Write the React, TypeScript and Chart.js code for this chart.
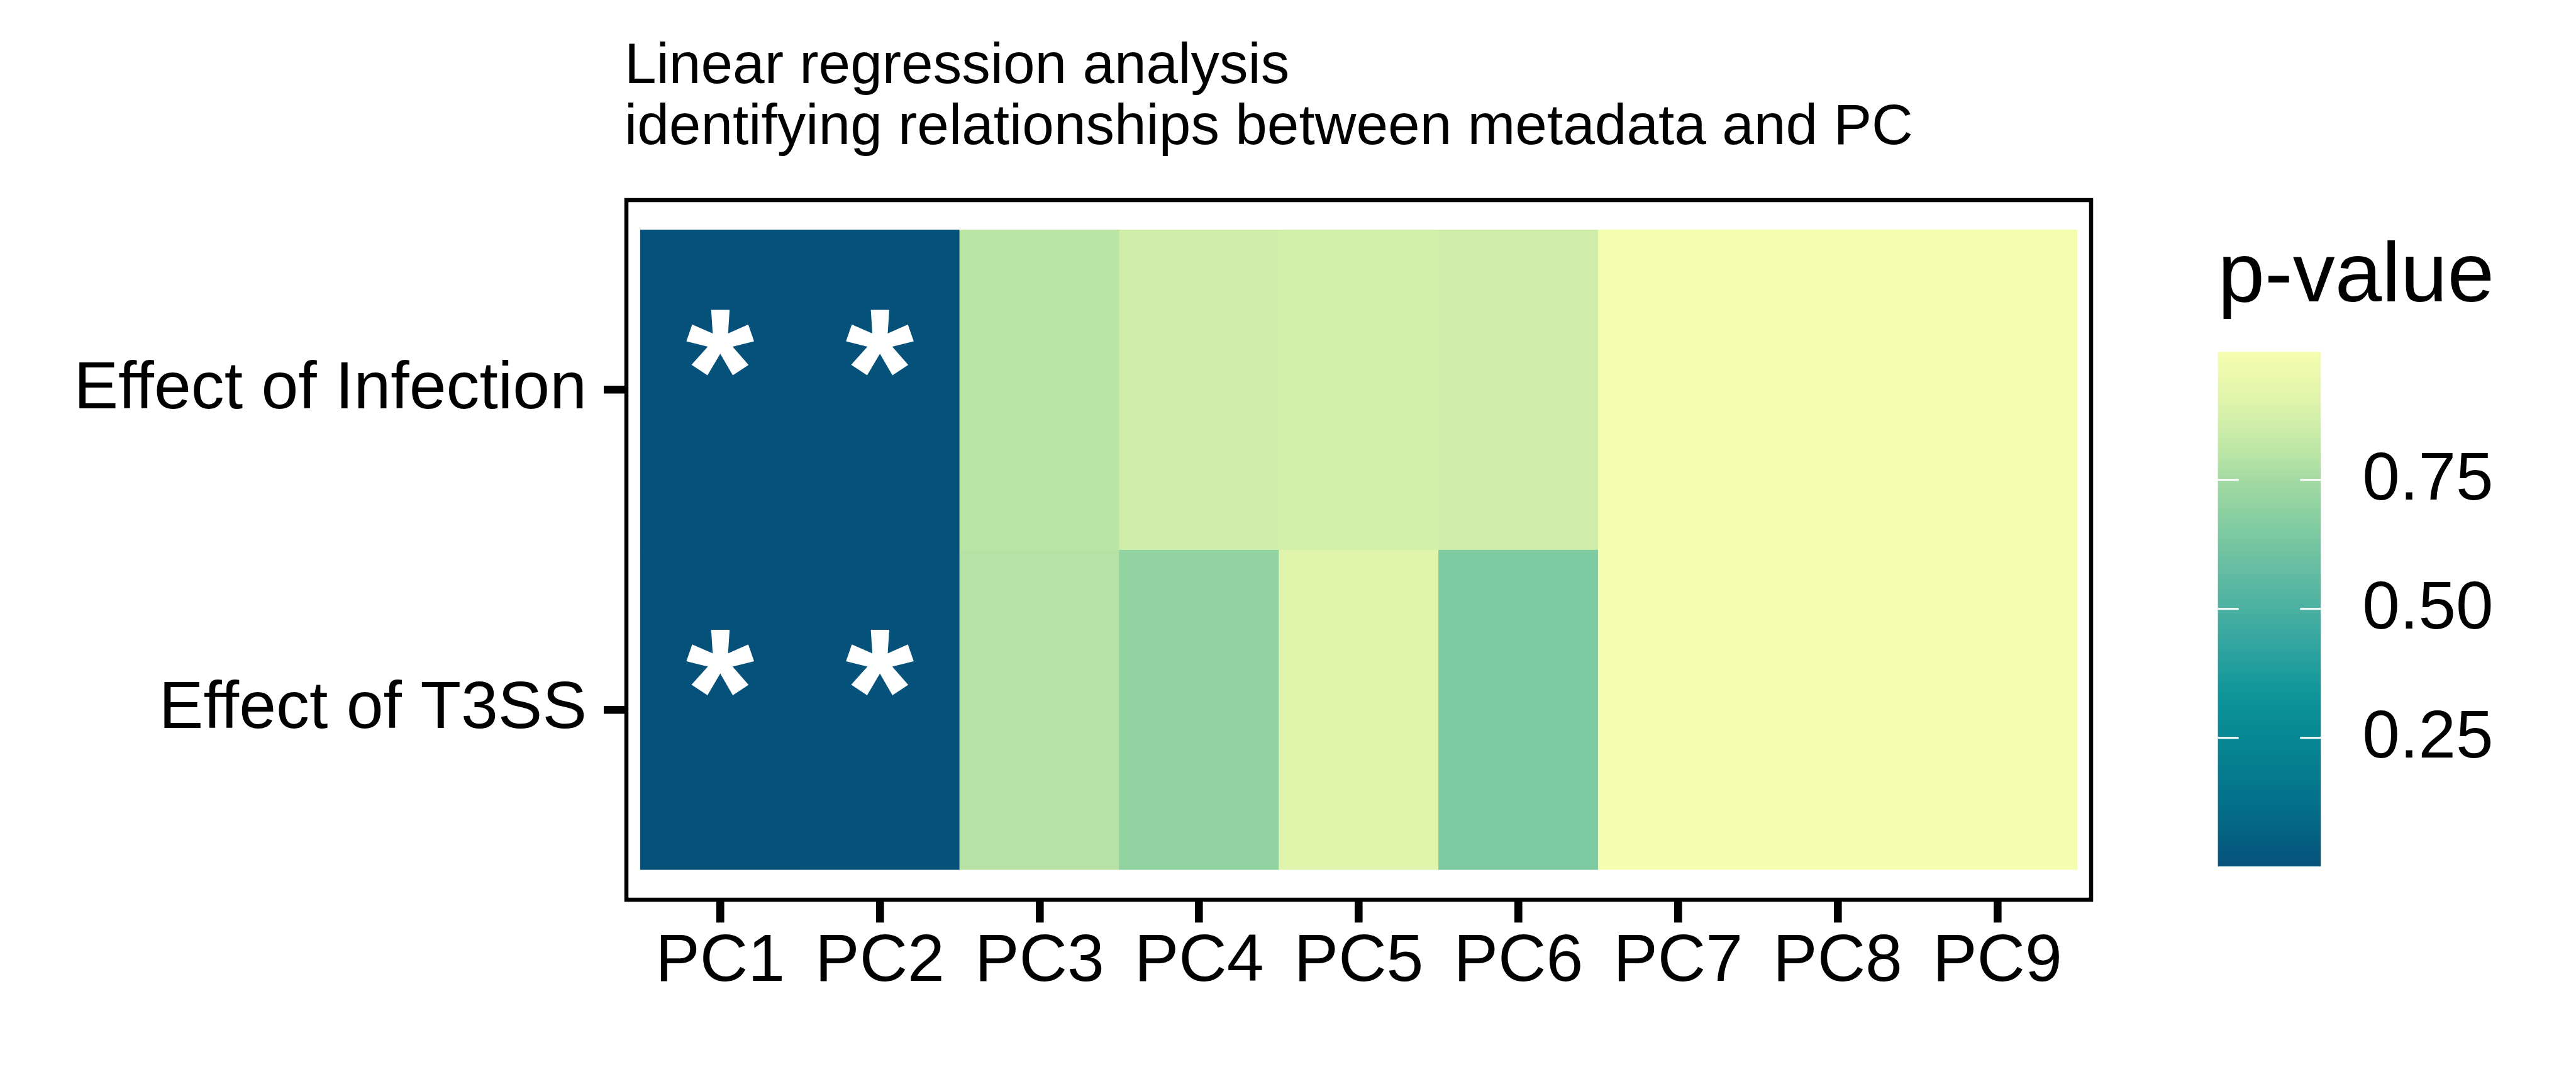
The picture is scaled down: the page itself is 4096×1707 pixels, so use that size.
import React, { useEffect, useRef } from "react";
import { Chart, registerables } from "chart.js";

Chart.register(...registerables);

// ---------------- data ----------------
const categories = ["PC1", "PC2", "PC3", "PC4", "PC5", "PC6", "PC7", "PC8", "PC9"];
const rowLabels = ["Effect of Infection", "Effect of T3SS"];
const pInfection = [0.002, 0.001, 0.8, 0.86, 0.87, 0.855, 0.998, 0.997, 0.998];
const pT3SS = [0.001, 0.003, 0.79, 0.7, 0.905, 0.655, 0.996, 0.998, 0.997];
const legendTicks = [0.25, 0.5, 0.75];
const titleLines = ["Linear regression analysis", "identifying relationships between metadata and PC"];
const legendTitle = "p-value";
const sigThreshold = 0.05;
const sigMark = "*";

// colour scale (position along the data range -> colour)
const gradientStops = [0, 0.12, 0.25, 0.33, 0.42, 0.5, 0.58, 0.655, 0.7, 0.75, 0.8, 0.86, 0.905, 1.0];
const gradientColors = [
  "#06517A", "#03708A", "#078793", "#0D9499", "#2EA39F", "#4AB0A1", "#66BDA2",
  "#7FCBA1", "#90D2A0", "#A3DAA3", "#BAE5A5", "#CFEEA9", "#E0F4AC", "#F5FDAF",
];

const FONT = '"Liberation Sans", Arial, sans-serif';

function hexToRgb(h: string) {
  const n = parseInt(h.slice(1), 16);
  return [(n >> 16) & 255, (n >> 8) & 255, n & 255];
}
function colorAt(t: number) {
  const tt = Math.max(0, Math.min(1, t));
  let i = 0;
  while (i < gradientStops.length - 2 && tt > gradientStops[i + 1]) i++;
  const a = hexToRgb(gradientColors[i]);
  const b = hexToRgb(gradientColors[i + 1]);
  const f = (tt - gradientStops[i]) / (gradientStops[i + 1] - gradientStops[i]);
  const c = a.map((v, k) => Math.round(v + (b[k] - v) * f));
  return `rgb(${c[0]},${c[1]},${c[2]})`;
}

const seriesList = [pInfection, pT3SS];
const allVals = seriesList.flat();
const vMin = Math.min(...allVals);
const vMax = Math.max(...allVals);
const norm = (v: number) => (v - vMin) / (vMax - vMin);

export default function App() {
  const ref = useRef<HTMLCanvasElement | null>(null);

  useEffect(() => {
    const canvas = ref.current;
    if (!canvas) return;
    const nRows = rowLabels.length;

    const datasets = seriesList.map((vals, r) => {
      const yc = nRows - r;
      return {
        label: rowLabels[r],
        data: vals.map((v, i) => ({ x: i + 1, y: [yc - 0.5, yc + 0.5], p: v })),
        backgroundColor: vals.map((v) => colorAt(norm(v))),
        borderWidth: 0,
        grouped: false,
        barPercentage: 1,
        categoryPercentage: 1,
      };
    });

    const overlay = {
      id: "overlay",
      afterDraw(chart: any) {
        const ctx = chart.ctx;
        const ca = chart.chartArea;
        const xs = chart.scales.x;
        const ys = chart.scales.y;
        ctx.save();

        // significance marks
        ctx.fillStyle = "#ffffff";
        ctx.textAlign = "left";
        ctx.textBaseline = "alphabetic";
        ctx.font = `bold 100px ${FONT}`;
        const m0 = ctx.measureText(sigMark);
        const inkH0 = m0.actualBoundingBoxAscent + m0.actualBoundingBoxDescent;
        const size = (100 * 106.2) / inkH0;
        ctx.font = `bold ${size}px ${FONT}`;
        const m = ctx.measureText(sigMark);
        seriesList.forEach((vals, r) => {
          const yc = nRows - r;
          vals.forEach((v, i) => {
            if (v >= sigThreshold) return;
            const cx = xs.getPixelForValue(i + 1);
            const cy = ys.getPixelForValue(yc + 0.1507);
            const x = cx - (m.actualBoundingBoxRight - m.actualBoundingBoxLeft) / 2;
            const yb = cy - (m.actualBoundingBoxDescent - m.actualBoundingBoxAscent) / 2;
            ctx.fillText(sigMark, x, yb);
          });
        });

        // panel border
        ctx.strokeStyle = "#000";
        ctx.lineWidth = 6.5;
        ctx.strokeRect(ca.left, ca.top, ca.right - ca.left, ca.bottom - ca.top);

        // title
        ctx.fillStyle = "#000";
        ctx.font = `91px ${FONT}`;
        ctx.textAlign = "left";
        ctx.textBaseline = "alphabetic";
        ctx.fillText(titleLines[0], ca.left - 3, 131.5);
        ctx.fillText(titleLines[1], ca.left - 3, 229.4);

        // colour bar legend
        const bx = ca.right + 201.6;
        const bw = 163.6;
        const bTop = 559.3;
        const bBot = 1377.1;
        const grad = ctx.createLinearGradient(0, bBot, 0, bTop);
        gradientStops.forEach((s, k) => grad.addColorStop(s, gradientColors[k]));
        ctx.fillStyle = grad;
        ctx.fillRect(bx, bTop, bw, bBot - bTop);

        ctx.fillStyle = "#000";
        ctx.font = `134px ${FONT}`;
        ctx.fillText(legendTitle, bx, 479);

        ctx.font = `107px ${FONT}`;
        ctx.textBaseline = "middle";
        legendTicks.forEach((t) => {
          const y = bBot - norm(t) * (bBot - bTop);
          ctx.strokeStyle = "#ffffff";
          ctx.lineWidth = 3;
          ctx.beginPath();
          ctx.moveTo(bx, y);
          ctx.lineTo(bx + 33, y);
          ctx.moveTo(bx + bw - 33, y);
          ctx.lineTo(bx + bw, y);
          ctx.stroke();
          ctx.fillStyle = "#000";
          ctx.fillText(t.toFixed(2), bx + bw + 66, y + 2);
        });
        ctx.restore();
      },
    };

    const chart = new Chart(canvas, {
      type: "bar",
      data: { datasets: datasets as any },
      options: {
        responsive: false,
        animation: false,
        devicePixelRatio: 1,
        layout: { padding: { left: 0, right: 771, top: 318, bottom: 0 } },
        plugins: { legend: { display: false }, tooltip: { enabled: false }, title: { display: false } },
        scales: {
          x: {
            type: "linear",
            min: 0.4125,
            max: 9.5875,
            offset: false,
            afterBuildTicks: (s: any) => {
              s.ticks = categories.map((_, i) => ({ value: i + 1 }));
            },
            afterFit: (s: any) => {
              s.height = 277;
            },
            ticks: {
              autoSkip: false,
              maxRotation: 0,
              minRotation: 0,
              padding: 0,
              color: "#000",
              font: { family: FONT, size: 105.8 },
              callback: (v: any) => categories[Math.round(Number(v)) - 1] ?? "",
            },
            grid: {
              offset: false,
              drawOnChartArea: false,
              drawTicks: true,
              tickLength: 36.3,
              lineWidth: 12.6,
              color: "#000",
            },
            border: { display: false },
          },
          y: {
            type: "linear",
            min: 0.406,
            max: 2.593,
            afterBuildTicks: (s: any) => {
              s.ticks = rowLabels.map((_, r) => ({ value: r + 1 }));
            },
            afterFit: (s: any) => {
              s.width = 996;
            },
            ticks: {
              autoSkip: false,
              padding: 27,
              color: "#000",
              font: { family: FONT, size: 105.8 },
              callback: (v: any) => rowLabels[nRows - Math.round(Number(v))] ?? "",
            },
            grid: {
              drawOnChartArea: false,
              drawTicks: true,
              tickLength: 36,
              lineWidth: 12.6,
              color: "#000",
            },
            border: { display: false },
          },
        },
      } as any,
      plugins: [overlay],
    });

    return () => chart.destroy();
  }, []);

  return (
    <div style={{ position: "fixed", left: 0, top: 0, width: 4096, height: 1707, background: "#fff" }}>
      <canvas ref={ref} width={4096} height={1707} style={{ width: 4096, height: 1707, display: "block" }} />
    </div>
  );
}
